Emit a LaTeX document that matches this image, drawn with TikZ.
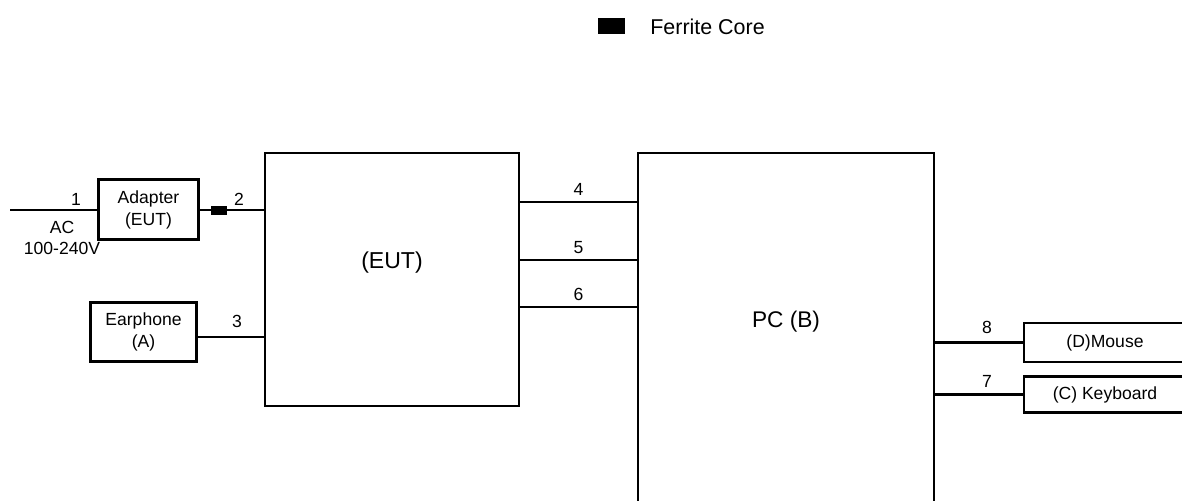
\documentclass[tikz,border=0pt]{standalone}
\usepackage{fontspec}
\setmainfont{Liberation Sans}
\usetikzlibrary{positioning,calc}
\tikzset{%
  block/.style={%
    draw,
    line width=1.3pt,
    inner sep=0pt,
    align=center,
    font=\fontsize{10}{12.5}\selectfont
  }
}
\tikzset{%
  cable/.style={%
    line width=1.3pt
  }
}
\tikzset{%
  ferrite/.style={%
    fill=black,
    inner sep=0pt
  }
}
\tikzset{%
  tag/.style={%
    inner sep=1pt,
    font=\fontsize{10}{12}\selectfont
  }
}
\begin{document}
\begin{tikzpicture}[x=0.02cm,y=-0.02cm]
  \clip (0,0) rectangle (1182,500);
  % legend
  \node [ferrite, minimum width=0.54cm, minimum height=0.32cm] (legendcore) at (611.5,26) {};
  \node [anchor=west, inner sep=0pt, font=\fontsize{12.2}{14}\selectfont] (legendtext) at (650,27) {Ferrite Core};
  % units
  \node [block, minimum width=2cm, minimum height=1.2cm] (adapter) at (148.5,209.5) {Adapter\\(EUT)};
  \node [block, minimum width=2.12cm, minimum height=1.18cm] (earphone) at (143.5,332) {Earphone\\(A)};
  \node [block, minimum width=5.08cm, minimum height=5.06cm] (eut) at (392,279.5) {};
  \node [font=\fontsize{13.1}{15}\selectfont] (euttext) at (392,263) {(EUT)};
  \node [block, minimum width=5.92cm, minimum height=7.4cm] (pc) at (786,338) {};
  \node [font=\fontsize{12.9}{15}\selectfont] (pctext) at (786,322) {PC (B)};
  \node [block, minimum width=3.24cm, minimum height=0.78cm] (mouse) at (1105,342.5) {(D)Mouse};
  \node [block, minimum width=3.24cm, minimum height=0.72cm] (keyboard) at (1105,394.5) {(C) Keyboard};
  % cables
  \coordinate (mains) at (10,210);
  \draw [cable] (mains) -- (mains -| adapter.west);
  \node [tag] (l1) at (76,199) {1};
  \node [tag, align=center, inner sep=0pt] (ac) at (62,238) {AC\\100-240V};
  \draw [cable] (adapter.east |- mains) -- (eut.west |- mains);
  \node [ferrite, minimum width=0.33cm, minimum height=0.19cm] (core) at (219,210.5) {};
  \node [tag] (l2) at (239,199) {2};
  \coordinate (earline) at (0,337);
  \draw [cable] (earphone.east |- earline) -- (eut.west |- earline);
  \node [tag] (l3) at (237,321) {3};
  \foreach \n/\y in {4/202,5/260,6/307} {
    \coordinate (c\n) at (0,\y);
    \draw [cable] (eut.east |- c\n) -- node [tag, above=2pt] (l\n) {\n} (pc.west |- c\n);
  }
  \draw [cable] (pc.east |- mouse.west) -- (mouse.west);
  \node [tag] (l8) at (987,327) {8};
  \draw [cable] (pc.east |- keyboard.west) -- (keyboard.west);
  \node [tag] (l7) at (987,381.5) {7};
\end{tikzpicture}
\end{document}
